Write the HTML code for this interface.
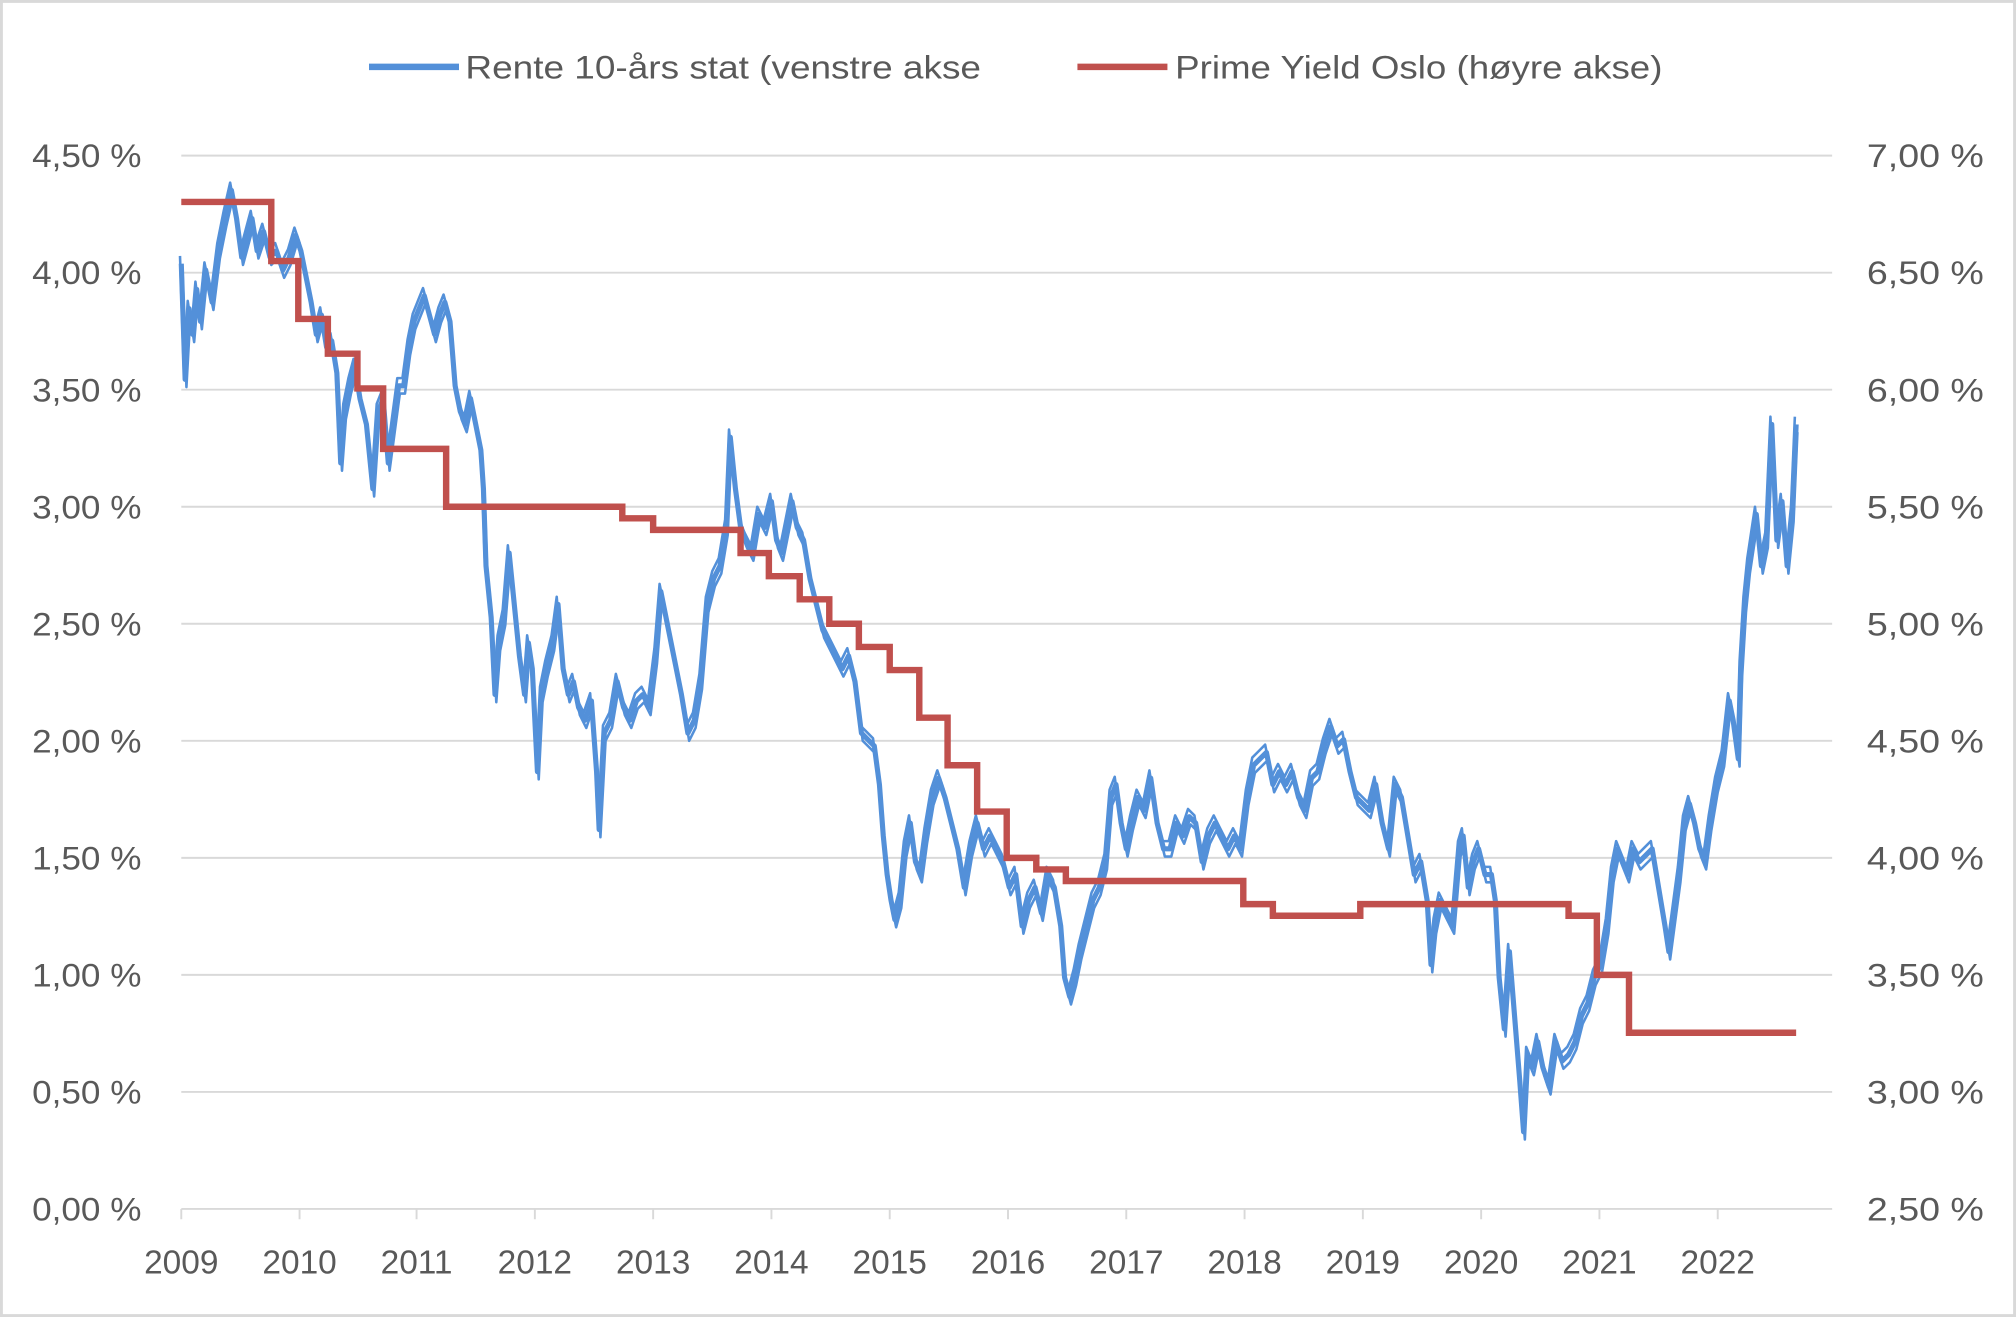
<!DOCTYPE html>
<html><head><meta charset="utf-8"><style>html,body{margin:0;padding:0;background:#fff}svg{display:block}</style></head>
<body>
<svg width="2016" height="1317" viewBox="0 0 1568 1024" preserveAspectRatio="none" xmlns="http://www.w3.org/2000/svg" xmlns:xlink="http://www.w3.org/1999/xlink" font-family="Liberation Sans, sans-serif" fill="#595959">
<rect x="1" y="1" width="1566" height="1022" fill="#fff" stroke="#d9d9d9" stroke-width="2.5"/>
<g stroke="#d9d9d9" stroke-width="1.5">
<line x1="141" x2="1425" y1="121" y2="121"/><line x1="141" x2="1425" y1="212" y2="212"/><line x1="141" x2="1425" y1="303" y2="303"/><line x1="141" x2="1425" y1="394" y2="394"/><line x1="141" x2="1425" y1="485" y2="485"/><line x1="141" x2="1425" y1="576" y2="576"/><line x1="141" x2="1425" y1="667" y2="667"/><line x1="141" x2="1425" y1="758" y2="758"/><line x1="141" x2="1425" y1="849" y2="849"/><line x1="141" x2="1425" y1="940" y2="940"/>
<line x1="141" x2="141" y1="940" y2="948"/><line x1="233" x2="233" y1="940" y2="948"/><line x1="324" x2="324" y1="940" y2="948"/><line x1="416" x2="416" y1="940" y2="948"/><line x1="508" x2="508" y1="940" y2="948"/><line x1="600" x2="600" y1="940" y2="948"/><line x1="692" x2="692" y1="940" y2="948"/><line x1="784" x2="784" y1="940" y2="948"/><line x1="876" x2="876" y1="940" y2="948"/><line x1="968" x2="968" y1="940" y2="948"/><line x1="1060" x2="1060" y1="940" y2="948"/><line x1="1152" x2="1152" y1="940" y2="948"/><line x1="1244" x2="1244" y1="940" y2="948"/><line x1="1336" x2="1336" y1="940" y2="948"/>
</g>
<g font-size="25" text-anchor="end">
<text x="110" y="130" textLength="85" lengthAdjust="spacingAndGlyphs">4,50 %</text><text x="110" y="221" textLength="85" lengthAdjust="spacingAndGlyphs">4,00 %</text><text x="110" y="312" textLength="85" lengthAdjust="spacingAndGlyphs">3,50 %</text><text x="110" y="403" textLength="85" lengthAdjust="spacingAndGlyphs">3,00 %</text><text x="110" y="494" textLength="85" lengthAdjust="spacingAndGlyphs">2,50 %</text><text x="110" y="585" textLength="85" lengthAdjust="spacingAndGlyphs">2,00 %</text><text x="110" y="676" textLength="85" lengthAdjust="spacingAndGlyphs">1,50 %</text><text x="110" y="767" textLength="85" lengthAdjust="spacingAndGlyphs">1,00 %</text><text x="110" y="858" textLength="85" lengthAdjust="spacingAndGlyphs">0,50 %</text><text x="110" y="949" textLength="85" lengthAdjust="spacingAndGlyphs">0,00 %</text>
</g>
<g font-size="25" text-anchor="end">
<text x="1543" y="130" textLength="91" lengthAdjust="spacingAndGlyphs">7,00 %</text><text x="1543" y="221" textLength="91" lengthAdjust="spacingAndGlyphs">6,50 %</text><text x="1543" y="312" textLength="91" lengthAdjust="spacingAndGlyphs">6,00 %</text><text x="1543" y="403" textLength="91" lengthAdjust="spacingAndGlyphs">5,50 %</text><text x="1543" y="494" textLength="91" lengthAdjust="spacingAndGlyphs">5,00 %</text><text x="1543" y="585" textLength="91" lengthAdjust="spacingAndGlyphs">4,50 %</text><text x="1543" y="676" textLength="91" lengthAdjust="spacingAndGlyphs">4,00 %</text><text x="1543" y="767" textLength="91" lengthAdjust="spacingAndGlyphs">3,50 %</text><text x="1543" y="858" textLength="91" lengthAdjust="spacingAndGlyphs">3,00 %</text><text x="1543" y="949" textLength="91" lengthAdjust="spacingAndGlyphs">2,50 %</text>
</g>
<g font-size="26" text-anchor="middle">
<text x="141" y="990">2009</text><text x="233" y="990">2010</text><text x="324" y="990">2011</text><text x="416" y="990">2012</text><text x="508" y="990">2013</text><text x="600" y="990">2014</text><text x="692" y="990">2015</text><text x="784" y="990">2016</text><text x="876" y="990">2017</text><text x="968" y="990">2018</text><text x="1060" y="990">2019</text><text x="1152" y="990">2020</text><text x="1244" y="990">2021</text><text x="1336" y="990">2022</text>
</g>
<line x1="287" x2="357" y1="52" y2="52" stroke="#5390d9" stroke-width="5"/>
<text x="362" y="61" font-size="25" textLength="401" lengthAdjust="spacingAndGlyphs">Rente 10-års stat (venstre akse</text>
<line x1="838" x2="908" y1="52" y2="52" stroke="#c0504d" stroke-width="5"/>
<text x="914" y="61" font-size="25" textLength="379" lengthAdjust="spacingAndGlyphs">Prime Yield Oslo (høyre akse)</text>
<defs>
<polyline id="b" fill="none" stroke-linejoin="round" points="141,205 144,295 147,240 150,260 153,225 156,250 160,210 165,235 170,195 175,170 180,148 184,170 188,200 192,185 196,170 200,195 205,180 210,200 215,195 220,210 225,200 230,183 234,195 238,215 242,235 246,260 250,245 254,270 258,265 262,290 265,360 268,320 272,300 276,285 280,310 285,330 290,380 294,320 298,310 302,360 306,330 310,300 314,300 318,270 322,250 326,240 330,230 334,245 338,260 342,245 346,235 350,250 354,300 358,320 362,330 366,310 370,330 374,350 376,380 378,440 382,480 385,540 388,500 392,480 396,430 400,470 404,510 408,540 411,500 414,520 418,600 421,540 425,520 430,500 434,470 438,520 442,540 446,530 450,550 455,560 460,545 464,600 466,645 470,570 475,560 480,530 485,550 490,560 495,545 500,540 505,550 510,510 514,460 518,480 522,500 526,520 530,540 535,570 540,560 545,530 550,470 555,450 560,440 565,410 568,340 572,380 576,410 580,420 585,430 590,400 595,410 600,390 604,420 608,430 612,410 616,390 620,410 625,420 630,450 635,470 640,490 645,500 650,510 655,520 660,510 665,530 670,570 675,575 680,580 684,610 687,650 690,680 693,700 696,715 700,700 704,660 708,640 712,670 716,680 720,650 725,620 730,605 735,620 740,640 745,660 750,690 755,660 760,640 765,660 770,650 775,660 780,670 785,690 790,680 795,720 800,700 805,690 810,710 815,680 820,690 825,720 828,760 832,775 836,760 840,740 845,720 850,700 855,690 860,670 864,620 868,610 872,640 876,660 880,640 885,620 890,630 895,605 900,640 905,660 910,660 915,640 920,650 925,635 930,640 935,670 940,650 945,640 950,650 955,660 960,650 965,660 970,620 975,595 980,590 985,585 990,610 995,600 1000,610 1005,600 1010,620 1015,630 1020,605 1025,600 1030,580 1035,565 1040,580 1045,575 1050,600 1055,620 1060,625 1065,630 1070,610 1075,640 1080,660 1085,610 1090,620 1095,650 1100,680 1105,670 1110,700 1113,750 1116,720 1120,700 1125,710 1130,720 1135,660 1138,650 1142,690 1146,670 1150,660 1155,680 1160,680 1163,700 1166,760 1170,800 1174,740 1178,790 1182,840 1185,880 1188,820 1192,830 1196,810 1200,830 1205,845 1210,810 1215,825 1220,820 1225,810 1230,790 1235,780 1240,760 1245,750 1250,720 1254,680 1258,660 1262,670 1266,680 1270,660 1275,670 1280,665 1285,660 1290,690 1295,720 1298,740 1302,710 1306,680 1310,640 1314,625 1318,640 1322,660 1326,670 1330,640 1335,610 1340,590 1345,545 1348,560 1352,590 1354,520 1357,470 1360,440 1363,420 1366,400 1370,440 1374,420 1378,330 1382,420 1386,390 1390,440 1394,400 1397,330"/>
</defs>
<use xlink:href="#b" stroke="#5390d9" stroke-width="2" transform="translate(1,6)"/>
<use xlink:href="#b" stroke="#5390d9" stroke-width="2" transform="translate(-1,-6)"/>
<use xlink:href="#b" stroke="#5390d9" stroke-width="4"/>
<polyline fill="none" stroke="#c0504d" stroke-width="5" points="141,157 211,157 211,203 232,203 232,248 255,248 255,275 278,275 278,302 298,302 298,349 347,349 347,394 484,394 484,403 508,403 508,412 576,412 576,430 598,430 598,448 622,448 622,466 645,466 645,485 668,485 668,503 692,503 692,521 715,521 715,558 737,558 737,595 760,595 760,631 783,631 783,667 806,667 806,676 829,676 829,685 967,685 967,703 990,703 990,712 1058,712 1058,703 1220,703 1220,712 1242,712 1242,758 1267,758 1267,803 1397,803"/>
</svg>
</body></html>
